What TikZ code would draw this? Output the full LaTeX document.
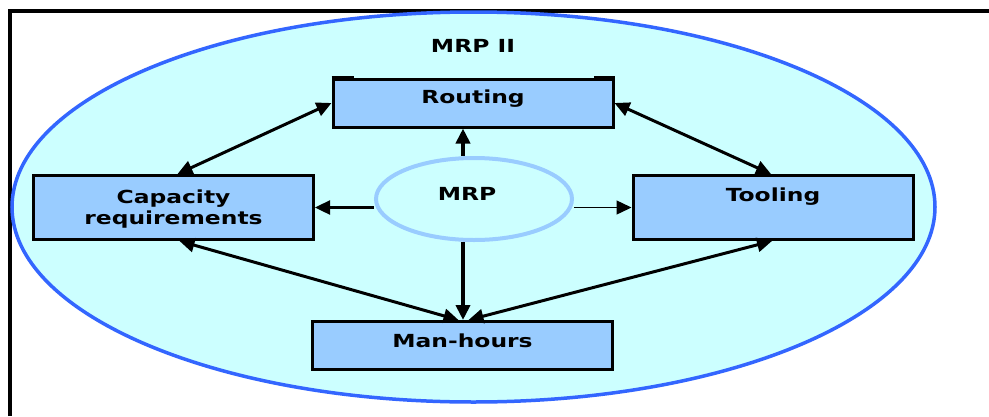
\documentclass[tikz,border=0pt]{standalone}
\usepackage{fontspec}
\usetikzlibrary{arrows.meta,shapes.geometric}
\newfontfamily\lblfont[FakeStretch=1.3]{DejaVu Sans}
\definecolor{bgcyan}{HTML}{CCFFFF}
\definecolor{ringblue}{HTML}{3366FF}
\definecolor{boxblue}{HTML}{99CCFF}
\tikzset{
  lbl/.style={font=\lblfont\bfseries\fontsize{18}{21}\selectfont, align=center, inner sep=0pt},
  blockbox/.style={draw=black, line width=3pt, fill=boxblue, rectangle, inner sep=0pt},
  tip/.style={-{Triangle[length=15pt,width=14pt]}},
  twotip/.style={{Triangle[length=15pt,width=14pt]}-{Triangle[length=15pt,width=14pt]}},
  link/.style={line width=3pt, black}
}
\begin{document}
\begin{tikzpicture}[x=1pt,y=-1pt]
\useasboundingbox (0,0) rectangle (989,416);
\fill[white] (0,0) rectangle (989,416);

% outer frame
\draw[line width=4pt, black] (9.7,416) -- (9.7,10.5) -- (989,10.5);

% MRP II region
\node[ellipse, draw=ringblue, line width=3.5pt, fill=bgcyan,
      minimum width=923pt, minimum height=390pt, inner sep=0pt] (mrp2) at (473.5,207) {};
\node[lbl, anchor=base] (mrp2text) at (473,52) {MRP II};

% blocks
\node[blockbox, minimum width=280pt, minimum height=48pt] (routing) at (473,103) {};
\node[lbl, anchor=base] (routingtext) at (473,103) {Routing};

\node[blockbox, minimum width=280pt, minimum height=64pt] (capacity) at (173.5,207.5) {};
\node[lbl] (capacitytext) at (173.5,209) {Capacity\\requirements};

\node[blockbox, minimum width=280pt, minimum height=64pt] (tooling) at (773,207.5) {};
\node[lbl, anchor=base] (toolingtext) at (773,201.5) {Tooling};

\node[blockbox, minimum width=300pt, minimum height=48pt] (manhours) at (462.5,345.5) {};
\node[lbl, anchor=base] (manhourstext) at (462.5,347) {Man-hours};

% corner marks on the Routing block
\draw[line width=2.5pt] ([yshift=0.3pt]routing.north west) -- ++(22,0);
\draw[line width=2.5pt] ([yshift=0.3pt]routing.north east) -- ++(-21,0);

% MRP core
\node[ellipse, draw=boxblue, line width=4pt, fill=bgcyan,
      minimum width=196pt, minimum height=82pt, inner sep=0pt] (mrp) at (474,199) {};
\node[lbl, anchor=base] (mrptext) at (467,200) {MRP};

% connectors from MRP
\draw[link, line width=4pt, tip] ([xshift=-11pt]mrp.north) -- ([xshift=-10pt]routing.south);
\draw[link, line width=4pt, tip] ([xshift=-11pt]mrp.south) -- ([xshift=0.5pt]manhours.north);
\draw[link, line width=2.4pt, tip] (mrp.west |- capacity.east) -- (capacity.east);
\draw[link, line width=1.4pt, tip] (mrp.east |- tooling.west) -- (tooling.west);

% links between blocks
\draw[link, twotip] (routing.west) -- ([xshift=4pt]capacity.north);
\draw[link, twotip] (routing.east) -- ([xshift=-2pt]tooling.north);
\draw[link, twotip] ([xshift=6pt]capacity.south) -- ([xshift=-4pt]manhours.north);
\draw[link, twotip] ([xshift=-1pt]tooling.south) -- ([xshift=6pt]manhours.north);
\end{tikzpicture}
\end{document}
